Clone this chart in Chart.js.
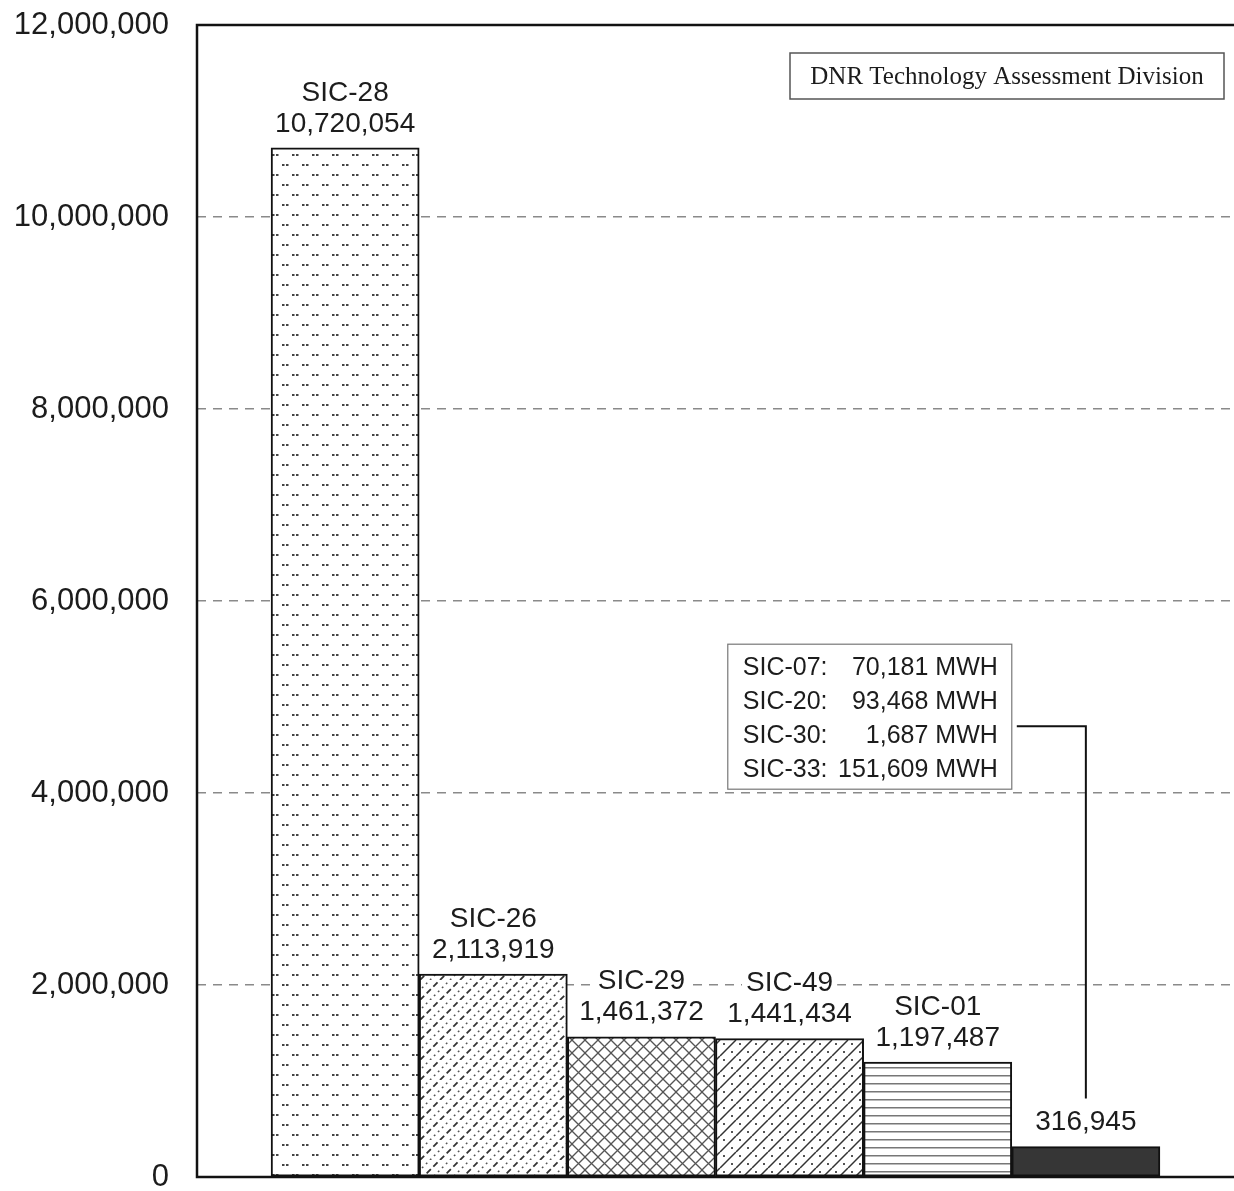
<!DOCTYPE html>
<html>
<head>
<meta charset="utf-8">
<script src="https://cdn.jsdelivr.net/npm/chart.js@4/dist/chart.umd.min.js"></script>
<style>
  body { margin: 0; background: #fff; }
  canvas { display: block; }
</style>
</head>
<body>
<canvas id="chart" width="1234" height="1191"></canvas>
<script>
// Electricity use by industry group (MWH)
const categories = ["SIC-28", "SIC-26", "SIC-29", "SIC-49", "SIC-01", ""];
const mwh = [10720054, 2113919, 1461372, 1441434, 1197487, 316945];

// groups summed into the last bar
const otherSics = ["SIC-07", "SIC-20", "SIC-30", "SIC-33"];
const otherMwh = [70181, 93468, 1687, 151609];

const yTicks = [0, 2000000, 4000000, 6000000, 8000000, 10000000, 12000000];
const credit = "DNR Technology Assessment Division";

const SANS = '"Liberation Sans", Arial, Helvetica, sans-serif';
const SERIF = '"Liberation Serif", "Times New Roman", serif';
const INK = "#1c1c1c";

function fmt(v) {
  return v.toLocaleString("en-US");
}

// small fill tiles for the bars
function makePattern(size, draw) {
  let c = document.createElement("canvas");
  c.width = size;
  c.height = size;
  let g = c.getContext("2d");
  g.fillStyle = "#fff";
  g.fillRect(0, 0, size, size);
  draw(g, size);
  return g.createPattern(c, "repeat");
}

function slash(g, s, off) {
  // "/" line through the tile, wrapped at the corners
  for (let k = -1; k <= 1; k++) {
    g.beginPath();
    g.moveTo(k * s + off, s);
    g.lineTo(k * s + off + s, 0);
    g.stroke();
  }
}

let fills = [
  // paired dots
  makePattern(20, (g) => {
    g.fillStyle = "#444";
    [[2, 4], [6, 4], [12, 14], [16, 14]].forEach(p => g.fillRect(p[0], p[1], 2.5, 2));
  }),
  // alternating dashed and dotted diagonals
  makePattern(20, (g, s) => {
    let d = Math.SQRT2 * s;
    g.strokeStyle = "#333";
    g.lineWidth = 1.8;
    g.setLineDash([d / 3 - 3.5, 3.5]);
    slash(g, s, 0);
    g.strokeStyle = "#555";
    g.lineWidth = 1.6;
    g.setLineDash([1.8, d / 5 - 1.8]);
    slash(g, s, s / 2);
  }),
  // cross hatch
  makePattern(13, (g, s) => {
    g.strokeStyle = "#555";
    g.lineWidth = 1.3;
    slash(g, s, 0);
    for (let k = -1; k <= 1; k++) {
      g.beginPath();
      g.moveTo(k * s, 0);
      g.lineTo(k * s + s, s);
      g.stroke();
    }
  }),
  // diagonals with dots between
  makePattern(16, (g, s) => {
    g.strokeStyle = "#333";
    g.lineWidth = 1.5;
    slash(g, s, 0);
    g.fillStyle = "#555";
    g.fillRect(11, 11, 2, 2);
    g.fillRect(3, 3, 2, 2);
  }),
  // horizontal rules
  makePattern(8, (g, s) => {
    g.fillStyle = "#777";
    g.fillRect(0, 3, s, 1.5);
  }),
  "#363636"
];

// value labels above each bar
const barLabels = {
  id: "barLabels",
  afterDatasetsDraw(chart) {
    let ctx = chart.ctx;
    let meta = chart.getDatasetMeta(0);
    ctx.save();
    ctx.font = "28px " + SANS;
    ctx.textAlign = "center";
    ctx.textBaseline = "middle";
    meta.data.forEach((bar, i) => {
      let v = chart.data.datasets[0].data[i];
      if (v == null) return;
      let name = chart.data.labels[i];
      let lines = name ? [name, fmt(v)] : [fmt(v)];
      lines.reverse().forEach((t, j) => {
        let y = bar.y - 24 - j * 31;
        let w = ctx.measureText(t).width;
        ctx.fillStyle = "#fff";
        ctx.fillRect(bar.x - w / 2 - 4, y - 13, w + 8, 26);
        ctx.fillStyle = INK;
        ctx.fillText(t, bar.x, y);
      });
    });
    ctx.restore();
  }
};

// plot frame, credit box and the breakdown of the last bar
const frame = {
  id: "frame",
  afterDraw(chart) {
    let ctx = chart.ctx;
    let a = chart.chartArea;
    let y = chart.scales.y;
    ctx.save();

    ctx.strokeStyle = "#111";
    ctx.lineWidth = 2.5;
    ctx.beginPath();
    ctx.moveTo(chart.width, a.top);
    ctx.lineTo(a.left, a.top);
    ctx.lineTo(a.left, a.bottom);
    ctx.lineTo(chart.width, a.bottom);
    ctx.stroke();

    // credit box
    let cx = a.right - 444, cy = a.top + 28;
    ctx.lineWidth = 1.5;
    ctx.strokeStyle = "#555";
    ctx.fillStyle = "#fff";
    ctx.fillRect(cx, cy, 434, 46);
    ctx.strokeRect(cx, cy, 434, 46);
    ctx.font = "25px " + SERIF;
    ctx.fillStyle = INK;
    ctx.textAlign = "center";
    ctx.textBaseline = "middle";
    ctx.fillText(credit, cx + 217, cy + 24);

    // breakdown box
    let meta = chart.getDatasetMeta(0);
    let last = meta.data[mwh.length];
    let bx1 = last.x - last.width / 2;
    let bx0 = bx1 - 284;
    let by0 = y.getPixelForValue(5550000);
    let rowH = 34;
    ctx.fillStyle = "#fff";
    ctx.fillRect(bx0, by0, bx1 - bx0, rowH * otherSics.length + 9);
    ctx.strokeStyle = "#777";
    ctx.lineWidth = 1.2;
    ctx.strokeRect(bx0, by0, bx1 - bx0, rowH * otherSics.length + 9);
    ctx.font = "25px " + SANS;
    ctx.fillStyle = INK;
    otherSics.forEach((s, i) => {
      let ty = by0 + 24 + i * rowH;
      ctx.textAlign = "left";
      ctx.fillText(s + ":", bx0 + 15, ty);
      ctx.textAlign = "right";
      ctx.fillText(fmt(otherMwh[i]) + " MWH", bx1 - 14, ty);
    });

    // connector down to the last bar's label
    let ly = by0 + 24 + 2 * rowH - 10;
    ctx.strokeStyle = "#111";
    ctx.lineWidth = 2;
    ctx.beginPath();
    ctx.moveTo(bx1 + 5, ly);
    ctx.lineTo(last.x, ly);
    ctx.lineTo(last.x, last.y - 48);
    ctx.stroke();

    ctx.restore();
  }
};

new Chart(document.getElementById("chart"), {
  type: "bar",
  data: {
    // empty slots at both ends leave half a bar of space
    labels: ["", ...categories, ""],
    datasets: [{
      data: [null, ...mwh, null],
      backgroundColor: [null, ...fills, null],
      borderColor: "#111",
      borderWidth: 2,
      borderSkipped: false,
      barPercentage: 1,
      categoryPercentage: 1
    }]
  },
  options: {
    responsive: false,
    animation: false,
    layout: { padding: { top: 25, right: 0, bottom: 14, left: 0 } },
    plugins: {
      legend: { display: false },
      tooltip: { enabled: false }
    },
    scales: {
      x: {
        display: false,
        offset: false
      },
      y: {
        min: 0,
        max: 12000000,
        afterBuildTicks: (scale) => {
          scale.ticks = yTicks.map(v => ({ value: v }));
        },
        afterFit: (scale) => {
          scale.width = 197;
          scale.paddingTop = 0;
          scale.paddingBottom = 0;
        },
        border: { display: false, dash: [9, 7] },
        grid: { color: "#8a8a8a", lineWidth: 1.5, drawTicks: false },
        ticks: {
          padding: 28,
          color: INK,
          font: { family: SANS, size: 31, lineHeight: 0.2 },
          callback: (v) => fmt(v)
        }
      }
    }
  },
  plugins: [barLabels, frame]
});
</script>
</body>
</html>
